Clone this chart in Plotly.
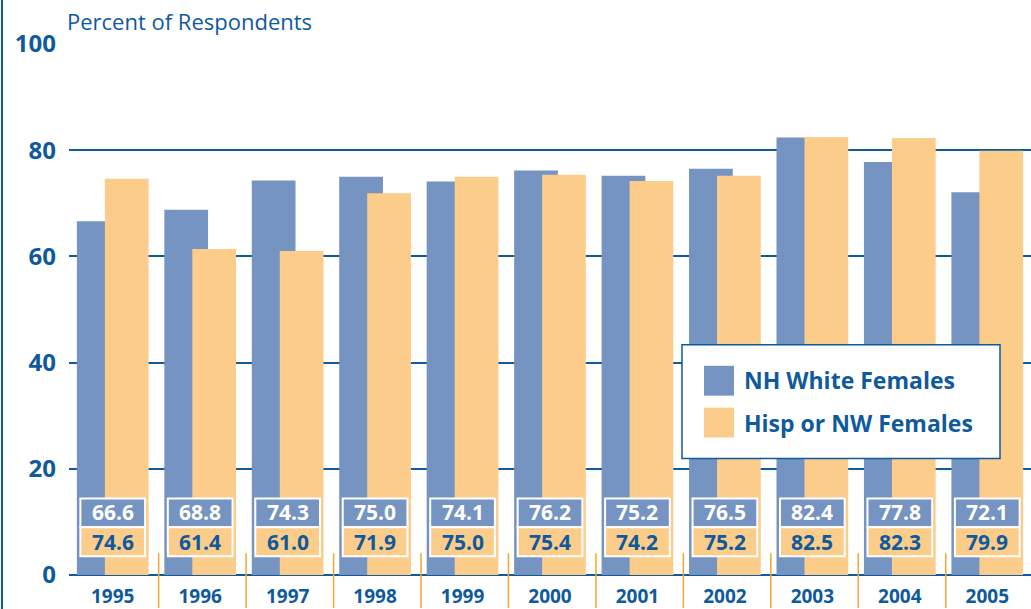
import plotly.graph_objects as go

years = ["1995", "1996", "1997", "1998", "1999", "2000", "2001", "2002", "2003", "2004", "2005"]
nh_white = [66.6, 68.8, 74.3, 75.0, 74.1, 76.2, 75.2, 76.5, 82.4, 77.8, 72.1]
hisp_nw = [74.6, 61.4, 61.0, 71.9, 75.0, 75.4, 74.2, 75.2, 82.5, 82.3, 79.9]
y_ticks = [0, 20, 40, 60, 80, 100]

BLUE = "#7594c2"
ORANGE = "#fccc8a"
NAVY = "#0f5a9c"
SEP = "#f2a531"
FONT = "Open Sans"

L, T, PW, PH = 69, 44, 962, 533


def px(xp):
    return (xp - L) / PW


def py(yp):
    return (T + PH - yp) / PH


fig = go.Figure()
fig.add_trace(go.Bar(x=years, y=nh_white, name="NH White Females", marker=dict(color=BLUE, line=dict(width=0)),
                     offset=-0.41, width=0.5, hoverinfo="x+y", legendgroup="a"))
fig.add_trace(go.Bar(x=years, y=hisp_nw, name="Hisp or NW Females", marker=dict(color=ORANGE, line=dict(width=0)),
                     offset=-0.09, width=0.5, hoverinfo="x+y", legendgroup="b"))

shapes = []
annotations = []
for i in range(len(years)):
    shapes.append(dict(type="rect", xref="x", yref="y", x0=i - 0.37, x1=i + 0.37, y0=9.0, y1=14.4,
                       fillcolor=BLUE, line=dict(color="white", width=2), layer="above"))
    shapes.append(dict(type="rect", xref="x", yref="y", x0=i - 0.37, x1=i + 0.37, y0=3.55, y1=9.0,
                       fillcolor=ORANGE, line=dict(color="white", width=2), layer="above"))
    annotations.append(dict(text=f"{nh_white[i]:.1f}", x=i, y=11.8, xref="x", yref="y",
                            showarrow=False, xanchor="center", yanchor="middle",
                            font=dict(family=FONT, size=21, color="white", weight="bold")))
    annotations.append(dict(text=f"{hisp_nw[i]:.1f}", x=i, y=6.3, xref="x", yref="y",
                            showarrow=False, xanchor="center", yanchor="middle",
                            font=dict(family=FONT, size=21, color=NAVY, weight="bold")))
for i in range(len(years) - 1):
    shapes.append(dict(type="line", xref="x", yref="paper", x0=i + 0.525, x1=i + 0.525, y0=0.041, y1=-0.062,
                       line=dict(color=SEP, width=1.5), layer="above"))
# left frame line
shapes.append(dict(type="line", xref="paper", yref="paper", x0=px(2), x1=px(2), y0=-0.07, y1=1.09,
                   line=dict(color=NAVY, width=2)))
# legend frame and swatches
shapes.append(dict(type="rect", xref="paper", yref="paper", x0=px(682), x1=px(1000),
                   y0=py(460), y1=py(346),
                   fillcolor="white", line=dict(color=NAVY, width=1.5), layer="above"))
shapes.append(dict(type="rect", xref="paper", yref="paper", x0=px(704), x1=px(734),
                   y0=py(397), y1=py(367), fillcolor=BLUE, line=dict(width=0), layer="above"))
shapes.append(dict(type="rect", xref="paper", yref="paper", x0=px(704), x1=px(734),
                   y0=py(439), y1=py(409), fillcolor=ORANGE, line=dict(width=0), layer="above"))

annotations.append(dict(text="Percent of Respondents", xref="paper", yref="paper", x=px(65), y=py(21),
                        xanchor="left", yanchor="middle", showarrow=False,
                        font=dict(family=FONT, size=22, color=NAVY)))

fig.update_layout(
    width=1031, height=609,
    margin=dict(l=L, r=0, t=T, b=609 - T - PH),
    plot_bgcolor="white", paper_bgcolor="white",
    barmode="overlay",
    shapes=shapes,
    annotations=annotations,
    font=dict(family=FONT, color=NAVY),
    legend=dict(x=px(694), y=py(360), xanchor="left", yanchor="top",
                bgcolor="rgba(0,0,0,0)", borderwidth=0, traceorder="grouped", tracegroupgap=10,
                font=dict(family=FONT, size=23, color=NAVY, weight="bold"),
                itemwidth=40),
    xaxis=dict(type="category", categoryorder="array", categoryarray=years,
               range=[-0.5, len(years) - 0.5], showgrid=False, showline=False, ticks="",
               tickfont=dict(family=FONT, size=19, color=NAVY, weight="bold"), ticklabelstandoff=8),
    yaxis=dict(range=[0, 100], tickvals=y_ticks, showgrid=True, gridcolor=NAVY, gridwidth=1.5,
               zeroline=True, zerolinecolor=NAVY, zerolinewidth=2, showline=False, ticks="",
               tickfont=dict(family=FONT, size=24, color=NAVY, weight="bold"), ticklabelstandoff=12),
)

fig.write_html("out.html", config={"displayModeBar": False},
               post_script="document.body.style.margin='0';document.body.style.overflow='hidden';")
